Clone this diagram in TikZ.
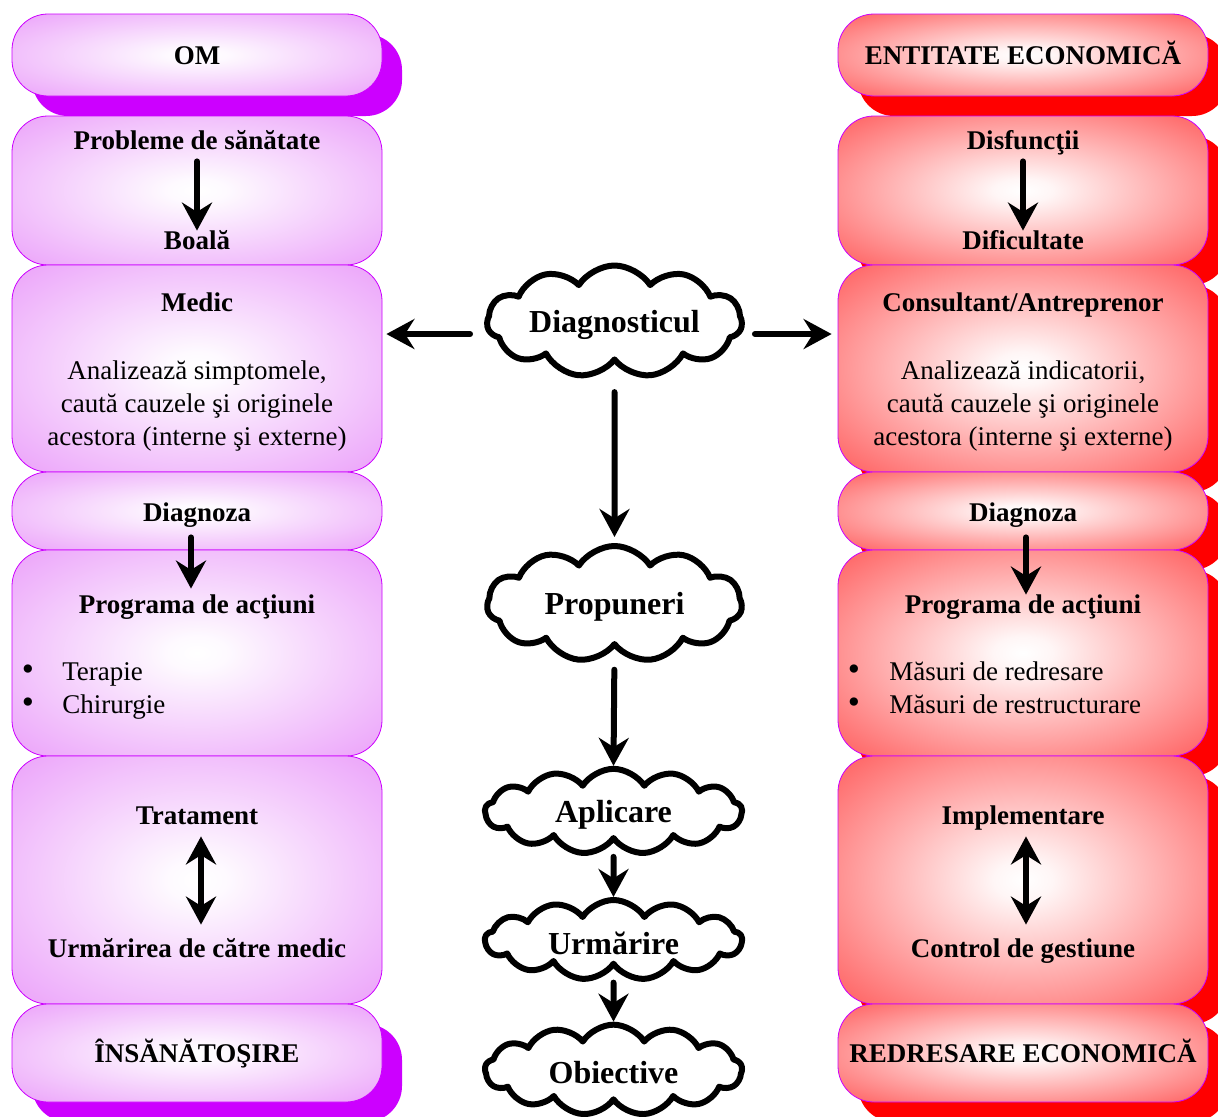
\documentclass[tikz,border=0pt]{standalone}
\usepackage{fontspec}
\setmainfont{Liberation Serif}
\usetikzlibrary{arrows.meta,shapes.symbols}
\definecolor{vOut}{RGB}{236,166,250}
\definecolor{vSh}{RGB}{204,0,255}
\definecolor{rOut}{RGB}{255,102,102}
\definecolor{rSh}{RGB}{255,0,0}
\definecolor{bord}{RGB}{204,0,255}
\pgfdeclareradialshading{shadeL}{\pgfpoint{0bp}{0bp}}{color(0bp)=(white); color(4bp)=(white!94!vOut); color(34bp)=(vOut); color(50bp)=(vOut)}
\pgfdeclareradialshading{shadeR}{\pgfpoint{0bp}{0bp}}{color(0bp)=(white); color(4bp)=(white!94!rOut); color(34bp)=(rOut); color(50bp)=(rOut)}
\tikzset{
  boxbase/.style={draw=bord, line width=0.6pt, rounded corners=27pt, minimum width=277.5pt, inner sep=0pt},
  boxL/.style={boxbase, shade, shading=shadeL},
  boxR/.style={boxbase, shade, shading=shadeR},
  shL/.style={fill=vSh, rounded corners=27pt},
  shR/.style={fill=rSh, rounded corners=27pt},
  bt/.style={font=\fontsize{20.25pt}{24.75pt}\selectfont\bfseries, inner sep=0pt, text height=14.2pt, text depth=4pt, yshift=-2.25pt},
  nt/.style={font=\fontsize{20.25pt}{24.75pt}\selectfont, inner sep=0pt, text height=14.2pt, text depth=4pt, yshift=-2.25pt},
  bul/.style={font=\fontsize{26pt}{26pt}\selectfont, inner sep=0pt, text height=10pt, text depth=0pt, yshift=-1.8pt},
  ntm/.style={font=\fontsize{20.25pt}{24.75pt}\selectfont, inner sep=0pt, align=center, yshift=-2.25pt},
  cloudbox/.style={cloud, cloud ignores aspect, draw=black, fill=white, line width=4.5pt, line join=round, inner sep=0pt},
  bigcloud/.style={cloudbox, cloud puffs=11, cloud puff arc=115},
  flatcloud/.style={cloudbox, cloud puffs=13, cloud puff arc=115},
  ctext/.style={font=\fontsize{24pt}{28pt}\selectfont\bfseries, inner sep=0pt, yshift=-2.25pt},
  arr/.style={line width=4.5pt, line cap=round, -{Stealth[length=21pt, width=22.5pt, inset=7pt]}},
  darr/.style={line width=4.5pt, {Stealth[length=21pt, width=22.5pt, inset=7pt]}-{Stealth[length=21pt, width=22.5pt, inset=7pt]}},
}
\begin{document}
\begin{tikzpicture}[x=0.75pt, y=-0.75pt]
\useasboundingbox (0,0) rectangle (1218,1117);
\fill[white] (0,0) rectangle (1218,1117);
\clip (0,0) rectangle (1218,1117);

% shadows
\path[shL] (32,34) rectangle (402,116);
\path[shL] (32,1024) rectangle (402,1122);
\path[shR] (858,34) rectangle (1228,116);
\path[shR] (858,136) rectangle (1228,285);
\path[shR] (858,285) rectangle (1228,492);
\path[shR] (858,492) rectangle (1228,570);
\path[shR] (858,570) rectangle (1228,776);
\path[shR] (858,776) rectangle (1228,1024);
\path[shR] (858,1024) rectangle (1228,1122);

% left boxes
\node[boxL, minimum height=61.5pt]  (bL1) at (197,55) {};
\node[boxL, minimum height=111.75pt] (bL2) at (197,190.5) {};
\node[boxL, minimum height=155.25pt] (bL3) at (197,368.5) {};
\node[boxL, minimum height=58.5pt]  (bL4) at (197,511) {};
\node[boxL, minimum height=154.5pt] (bL5) at (197,653) {};
\node[boxL, minimum height=186pt]   (bL6) at (197,880) {};
\node[boxL, minimum height=73.5pt]  (bL7) at (197,1053) {};

% right boxes
\node[boxR, minimum height=61.5pt]  (bR1) at (1023,55) {};
\node[boxR, minimum height=111.75pt] (bR2) at (1023,190.5) {};
\node[boxR, minimum height=155.25pt] (bR3) at (1023,368.5) {};
\node[boxR, minimum height=58.5pt]  (bR4) at (1023,511) {};
\node[boxR, minimum height=154.5pt] (bR5) at (1023,653) {};
\node[boxR, minimum height=186pt]   (bR6) at (1023,880) {};
\node[boxR, minimum height=73.5pt]  (bR7) at (1023,1053) {};

% left texts
\node[bt] (tOM) at (197,55) {OM};
\node[bt] (tProb) at (197,140) {Probleme de sănătate};
\node[bt] (tBoala) at (197,240) {Boală};
\node[bt] (tMedic) at (197,302) {Medic};
\node[ntm] (tAnL) at (197,403) {Analizează simptomele,\\caută cauzele şi originele\\acestora (interne şi externe)};
\node[bt] (tDgL) at (197,512) {Diagnoza};
\node[bt] (tPrL) at (197,604) {Programa de acţiuni};
\node[bul] (bulL1) at (28,671) {•};
\node[nt, anchor=west] (tL1) at (62,671) {Terapie};
\node[bul] (bulL2) at (28,704) {•};
\node[nt, anchor=west] (tL2) at (62,704) {Chirurgie};
\node[bt] (tTrat) at (197,815) {Tratament};
\node[bt] (tUrmL) at (197,948) {Urmărirea de către medic};
\node[bt] (tIns) at (197,1053) {ÎNSĂNĂTOŞIRE};

% right texts
\node[bt] (tEnt) at (1023,55) {ENTITATE ECONOMICĂ};
\node[bt] (tDisf) at (1023,140) {Disfuncţii};
\node[bt] (tDific) at (1023,240) {Dificultate};
\node[bt] (tCons) at (1023,302) {Consultant/Antreprenor};
\node[ntm] (tAnR) at (1023,403) {Analizează indicatorii,\\caută cauzele şi originele\\acestora (interne şi externe)};
\node[bt] (tDgR) at (1023,512) {Diagnoza};
\node[bt] (tPrR) at (1023,604) {Programa de acţiuni};
\node[bul] (bulR1) at (854,671) {•};
\node[nt, anchor=west] (tR1) at (889,671) {Măsuri de redresare};
\node[bul] (bulR2) at (854,704) {•};
\node[nt, anchor=west] (tR2) at (889,704) {Măsuri de restructurare};
\node[bt] (tImpl) at (1023,815) {Implementare};
\node[bt] (tCtrl) at (1023,948) {Control de gestiune};
\node[bt] (tRed) at (1023,1053) {REDRESARE ECONOMICĂ};

% inner arrows
\draw[arr, shorten <=4.5pt] (tProb.south) -- (tBoala.north);
\draw[arr, shorten <=4.5pt] (tDisf.south) -- (tDific.north);
\draw[arr, shorten <=7.5pt, shorten >=4.5pt] ([xshift=-4.5pt]tDgL.south) -- ([xshift=-4.5pt]tPrL.north);
\draw[arr, shorten <=7.5pt] ([xshift=2.25pt]tDgR.south) -- ([xshift=2.25pt]tPrR.north);
\draw[darr, shorten <=4.5pt, shorten >=10.5pt] ([xshift=3pt]tTrat.south) -- ([xshift=3pt]tUrmL.north);
\draw[darr, shorten <=4.5pt, shorten >=10.5pt] ([xshift=2.25pt]tImpl.south) -- ([xshift=2.25pt]tCtrl.north);

% clouds
\node[bigcloud, minimum width=191.25pt, minimum height=84pt, label={[ctext]center:Diagnosticul}] (cDiag) at (614.5,321.5) {};
\node[bigcloud, minimum width=191.25pt, minimum height=87pt, label={[ctext]center:Propuneri}] (cProp) at (614.5,604) {};
\node[flatcloud, minimum width=192.75pt, minimum height=64pt, label={[ctext]center:Aplicare}] (cApl) at (613.5,811.5) {};
\node[flatcloud, minimum width=192.75pt, minimum height=60pt, label={[ctext]center:Urmărire}] (cUrm) at (613.5,940) {};
\node[flatcloud, minimum width=192.75pt, minimum height=68pt, label={[ctext]center:Obiective}] (cObj) at (613.5,1070) {};

% center arrows
\draw[arr, shorten <=21pt, shorten >=4.5pt] (cDiag.south) -- (cProp.north);
\draw[arr, shorten <=15.75pt] (cProp.south) -- (cApl.north);
\draw[arr, shorten <=10.5pt] (cApl.south) -- (cUrm.north);
\draw[arr, shorten <=10.5pt] (cUrm.south) -- (cObj.north);

\coordinate (dL) at ([yshift=-9.4pt]cDiag.west);
\coordinate (dR) at ([yshift=-9.4pt]cDiag.east);
\draw[arr, shorten <=10.5pt, shorten >=3pt] (dL) -- (dL -| bL3.east);
\draw[arr, shorten <=7.5pt, shorten >=4.5pt] (dR) -- (dR -| bR3.west);
\end{tikzpicture}
\end{document}
